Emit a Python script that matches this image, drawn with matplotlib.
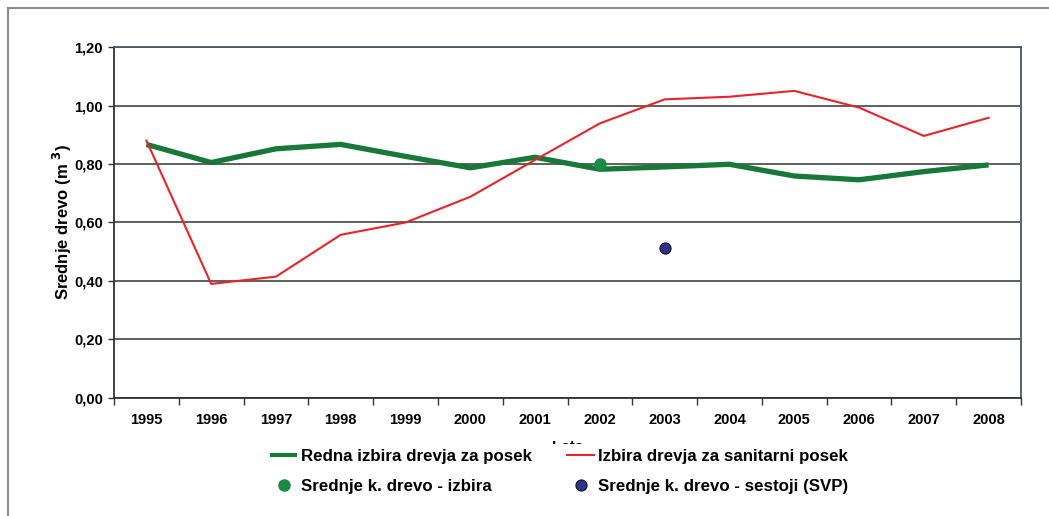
""" Average tree volume by year: regular vs sanitary selection """

import numpy as np
import matplotlib.pyplot as plt
from matplotlib.patches import Rectangle

plt.rcParams['font.family'] = ['Liberation Sans', 'DejaVu Sans']
plt.rcParams['font.weight'] = 'bold'

years = ["1995", "1996", "1997", "1998", "1999", "2000", "2001",
         "2002", "2003", "2004", "2005", "2006", "2007", "2008"]

# Redna izbira drevja za posek
redna = [0.867, 0.805, 0.852, 0.867, 0.826, 0.787, 0.823,
         0.782, 0.790, 0.799, 0.759, 0.746, 0.774, 0.797]

# Izbira drevja za sanitarni posek
sanitarni = [0.880, 0.390, 0.415, 0.558, 0.600, 0.688, 0.814,
             0.939, 1.021, 1.030, 1.050, 0.993, 0.896, 0.958]

# single reference points
izbira_year, izbira_val = "2002", 0.80
sestoji_year, sestoji_val = "2003", 0.512

yticks = [0.0, 0.2, 0.4, 0.6, 0.8, 1.0, 1.2]

fig = plt.figure(figsize=(10.49, 5.16), dpi=100)
ax = fig.add_axes([0.1087, 0.2287, 0.8646, 0.6802])

xs = np.arange(len(years))
l_redna, = ax.plot(xs, redna, color="#17783a", lw=3.8, solid_capstyle="butt",
                   label="Redna izbira drevja za posek", zorder=3)
l_san, = ax.plot(xs, sanitarni, color="#ec2227", lw=1.5,
                 label="Izbira drevja za sanitarni posek", zorder=4)
p_izb, = ax.plot([years.index(izbira_year)], [izbira_val], "o",
                 color="#1a8a45", ms=8, mec="#1a8a45",
                 label="Srednje k. drevo - izbira", zorder=5)
p_ses, = ax.plot([years.index(sestoji_year)], [sestoji_val], "o",
                 color="#2e3192", ms=8, mec="#111111", mew=0.8,
                 label="Srednje k. drevo - sestoji (SVP)", zorder=5)

ax.set_xlim(-0.5, len(years) - 0.5)
ax.set_ylim(0, 1.2)
ax.set_yticks(yticks)
ax.set_yticklabels(["{:.2f}".format(v).replace(".", ",") for v in yticks],
                   fontsize=10.5, fontweight="bold")
ax.set_xticks(xs)
ax.set_xticklabels(years, fontsize=10.5, fontweight="bold")
ax.set_xticks(np.arange(-0.5, len(years)), minor=True)
ax.tick_params(axis="x", which="major", length=0, pad=11)
ax.tick_params(axis="x", which="minor", length=5, width=1, color="#333333")
ax.tick_params(axis="y", length=4, width=1, color="#333333", pad=4)

ax.grid(axis="y", color="#444444", lw=1.2, zorder=1)
ax.set_axisbelow(True)
for side in ("left", "bottom"):
    ax.spines[side].set_color("#333333")
    ax.spines[side].set_linewidth(1.3)
for side in ("top", "right"):
    ax.spines[side].set_color("#4a5a60")
    ax.spines[side].set_linewidth(1.3)

ax.set_ylabel(r"Srednje drevo (m $^{\mathbf{3}}$)", fontsize=12,
              fontweight="bold", labelpad=0)
ax.set_xlabel("Leta", fontsize=11, fontweight="bold", labelpad=9)

# column-wise fill: left column = green entries, right column = the others
handles = [l_redna, p_izb, l_san, p_ses]
leg = fig.legend(handles=handles, labels=[h.get_label() for h in handles],
                 loc="upper left", bbox_to_anchor=(0.2445, 0.1558),
                 ncol=2, frameon=True, facecolor="white",
                 edgecolor="none", framealpha=1, handlelength=1.6,
                 handletextpad=0.2, columnspacing=2.1, labelspacing=0.85,
                 borderpad=0.3, prop={"weight": "bold", "size": 12.2})
leg.get_frame().set_boxstyle("square", pad=0)
for h in leg.legend_handles:
    if h.get_label().startswith("Redna"):
        h.set_linewidth(3)

# outer chart frame
fig.patches.append(Rectangle((8 / 1049, -0.05), 1.2, 0.05 + 508 / 516,
                             transform=fig.transFigure, fill=False,
                             edgecolor="#8a8a8a", lw=1.5, zorder=0))

fig.savefig("out.png", dpi=100)
